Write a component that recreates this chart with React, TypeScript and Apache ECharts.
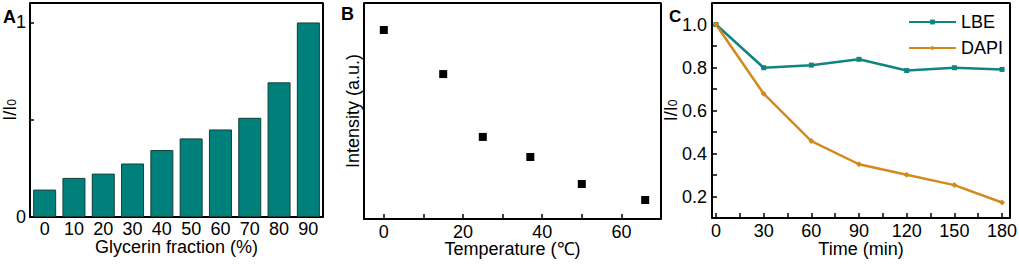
import React, { useEffect, useRef } from "react";
import * as echarts from "echarts";

const glycerinFractions = [0, 10, 20, 30, 40, 50, 60, 70, 80, 90];
const glycerinValues = [0.141, 0.201, 0.223, 0.275, 0.344, 0.404, 0.45, 0.51, 0.692, 1.0];

const temperatureValues = [0, 15, 25, 37, 50, 66];
const intensityValues = [0.875, 0.671, 0.38, 0.287, 0.162, 0.088];

const timeValues = [0, 30, 60, 90, 120, 150, 180];
const lbeValues = [1.0, 0.799, 0.811, 0.838, 0.786, 0.799, 0.791];
const dapiValues = [1.0, 0.678, 0.458, 0.35, 0.301, 0.253, 0.172];

const aYTicks = [0, 0.5, 1];
const aYLabels = [0, 1];
const bXLabels = [0, 20, 40, 60];
const bXTicks = [0, 10, 20, 30, 40, 50, 60];
const cXLabels = [0, 30, 60, 90, 120, 150, 180];
const cXTicks = [0, 15, 30, 45, 60, 75, 90, 105, 120, 135, 150, 165, 180];
const cYLabels = [0.2, 0.4, 0.6, 0.8, 1.0];
const cYTicks = [0.2, 0.3, 0.4, 0.5, 0.6, 0.7, 0.8, 0.9, 1.0];

// axis extents [xMin, xMax, yMin, yMax]
const A_EXT = [-5, 95, 0, 1.1];
const B_EXT = [-5, 70, 0, 1];
const C_EXT = [-2.5, 185, 0.1, 1.1];

const FONT = "'Liberation Sans', Arial, sans-serif";
const TEAL = "#0f8580";
const ORANGE = "#d4891f";
const FS = 18;

const GRIDS = [
  { left: 30, top: 3, width: 293, height: 214 },
  { left: 364, top: 3, width: 297, height: 216 },
  { left: 712, top: 3, width: 298, height: 215 },
];

export default function App() {
  const ref = useRef<HTMLDivElement>(null);
  useEffect(() => {
    if (!ref.current) return;
    const chart = echarts.init(ref.current, undefined, { renderer: "svg" });
    const txt = { color: "#000", fontFamily: FONT, fontSize: FS };
    const xTxt = { ...txt, lineHeight: 14 };
    const subRich = {
      s: { fontSize: 12, fontFamily: FONT, color: "#000", verticalAlign: "bottom", lineHeight: 16 },
    };
    const axisLine = { show: true, onZero: false, lineStyle: { color: "#000", width: 2 } };
    const tickStyle = { color: "#000", width: 1.5 };
    const frameSeries = (idx: number, ext: number[]) => ({
      type: "line",
      xAxisIndex: idx,
      yAxisIndex: idx,
      data: [
        [ext[0], ext[3]],
        [ext[1], ext[3]],
        [ext[1], ext[2]],
      ],
      symbol: "none",
      silent: true,
      clip: false,
      z: 5,
      lineStyle: { color: "#000", width: 2 },
      tooltip: { show: false },
    });
    const option: any = {
      animation: false,
      textStyle: { fontFamily: FONT },
      grid: GRIDS.map((g) => ({ ...g, containLabel: false, outerBoundsMode: "none" })),
      legend: {
        orient: "vertical",
        left: 903,
        top: 8,
        itemWidth: 47,
        itemHeight: 6,
        itemGap: 8,
        textStyle: { ...txt },
        data: ["LBE", "DAPI"],
      },
      xAxis: [
        {
          type: "value",
          gridIndex: 0,
          min: A_EXT[0],
          max: A_EXT[1],
          axisLine,
          axisTick: { show: false },
          axisLabel: { ...xTxt, margin: 5, customValues: glycerinFractions },
          name: "Glycerin fraction (%)",
          nameLocation: "middle",
          nameGap: 23,
          nameMoveOverlap: false,
          nameTextStyle: { ...xTxt },
          splitLine: { show: false },
        },
        {
          type: "value",
          gridIndex: 1,
          min: B_EXT[0],
          max: B_EXT[1],
          axisLine,
          axisTick: { inside: true, length: 5, customValues: bXTicks, lineStyle: tickStyle },
          axisLabel: { ...xTxt, margin: 6, customValues: bXLabels },
          name: "Temperature (℃)",
          nameLocation: "middle",
          nameGap: 23,
          nameMoveOverlap: false,
          nameTextStyle: { ...xTxt },
          splitLine: { show: false },
        },
        {
          type: "value",
          gridIndex: 2,
          min: C_EXT[0],
          max: C_EXT[1],
          axisLine,
          axisTick: { inside: true, length: 5, customValues: cXTicks, lineStyle: tickStyle },
          axisLabel: { ...xTxt, margin: 6, customValues: cXLabels },
          name: "Time (min)",
          nameLocation: "middle",
          nameGap: 24,
          nameMoveOverlap: false,
          nameTextStyle: { ...xTxt },
          splitLine: { show: false },
        },
      ],
      yAxis: [
        {
          type: "value",
          gridIndex: 0,
          min: A_EXT[2],
          max: A_EXT[3],
          axisLine,
          axisTick: { show: true, inside: true, length: 4, customValues: aYTicks, lineStyle: tickStyle },
          axisLabel: { ...txt, margin: 4, customValues: aYLabels },
          name: "I/I{s|0}",
          nameLocation: "middle",
          nameGap: 12,
          nameMoveOverlap: false,
          nameTextStyle: { ...txt, lineHeight: 16, rich: subRich },
          splitLine: { show: false },
        },
        {
          type: "value",
          gridIndex: 1,
          min: B_EXT[2],
          max: B_EXT[3],
          axisLine,
          axisTick: { show: false },
          axisLabel: { show: false },
          name: "Intensity (a.u.)",
          nameLocation: "middle",
          nameGap: 3,
          nameMoveOverlap: false,
          nameTextStyle: { ...txt, lineHeight: 16 },
          splitLine: { show: false },
        },
        {
          type: "value",
          gridIndex: 2,
          min: C_EXT[2],
          max: C_EXT[3],
          axisLine,
          axisTick: { show: true, inside: true, length: 5, customValues: cYTicks, lineStyle: tickStyle },
          axisLabel: { ...txt, margin: 5, customValues: cYLabels, formatter: (v: number) => v.toFixed(1) },
          name: "I/I{s|0}",
          nameLocation: "middle",
          nameGap: 33,
          nameMoveOverlap: false,
          nameTextStyle: { ...txt, lineHeight: 16, rich: subRich },
          splitLine: { show: false },
        },
      ],
      graphic: [
        { type: "text", left: 3, top: 8, style: { text: "A", font: `bold 18px ${FONT}`, fill: "#000" } },
        { type: "text", left: 341, top: 5, style: { text: "B", font: `bold 18px ${FONT}`, fill: "#000" } },
        { type: "text", left: 669, top: 8, style: { text: "C", font: `bold 17px ${FONT}`, fill: "#000" } },
      ],
      series: [
        {
          type: "bar",
          xAxisIndex: 0,
          yAxisIndex: 0,
          data: glycerinFractions.map((f, i) => [f, glycerinValues[i]]),
          barWidth: 23,
          itemStyle: { color: "#00807b", borderColor: "#123e3c", borderWidth: 1 },
        },
        {
          type: "scatter",
          xAxisIndex: 1,
          yAxisIndex: 1,
          data: temperatureValues.map((t, i) => [t, intensityValues[i]]),
          symbol: "rect",
          symbolSize: 8,
          itemStyle: { color: "#000", opacity: 1 },
        },
        {
          name: "LBE",
          type: "line",
          xAxisIndex: 2,
          yAxisIndex: 2,
          data: timeValues.map((t, i) => [t, lbeValues[i]]),
          symbol: "rect",
          symbolSize: 5,
          lineStyle: { color: TEAL, width: 2.5 },
          itemStyle: { color: TEAL },
        },
        {
          name: "DAPI",
          type: "line",
          xAxisIndex: 2,
          yAxisIndex: 2,
          data: timeValues.map((t, i) => [t, dapiValues[i]]),
          symbol: "diamond",
          symbolSize: 6,
          lineStyle: { color: ORANGE, width: 2.5 },
          itemStyle: { color: ORANGE },
        },
        frameSeries(0, A_EXT),
        frameSeries(1, B_EXT),
        frameSeries(2, C_EXT),
      ],
    };
    chart.setOption(option);
    return () => chart.dispose();
  }, []);
  return (
    <div style={{ position: "fixed", left: 0, top: 0, width: 1019, height: 265, background: "#fff" }}>
      <div ref={ref} style={{ position: "absolute", left: 0, top: 0, width: 1019, height: 265 }} />
    </div>
  );
}
